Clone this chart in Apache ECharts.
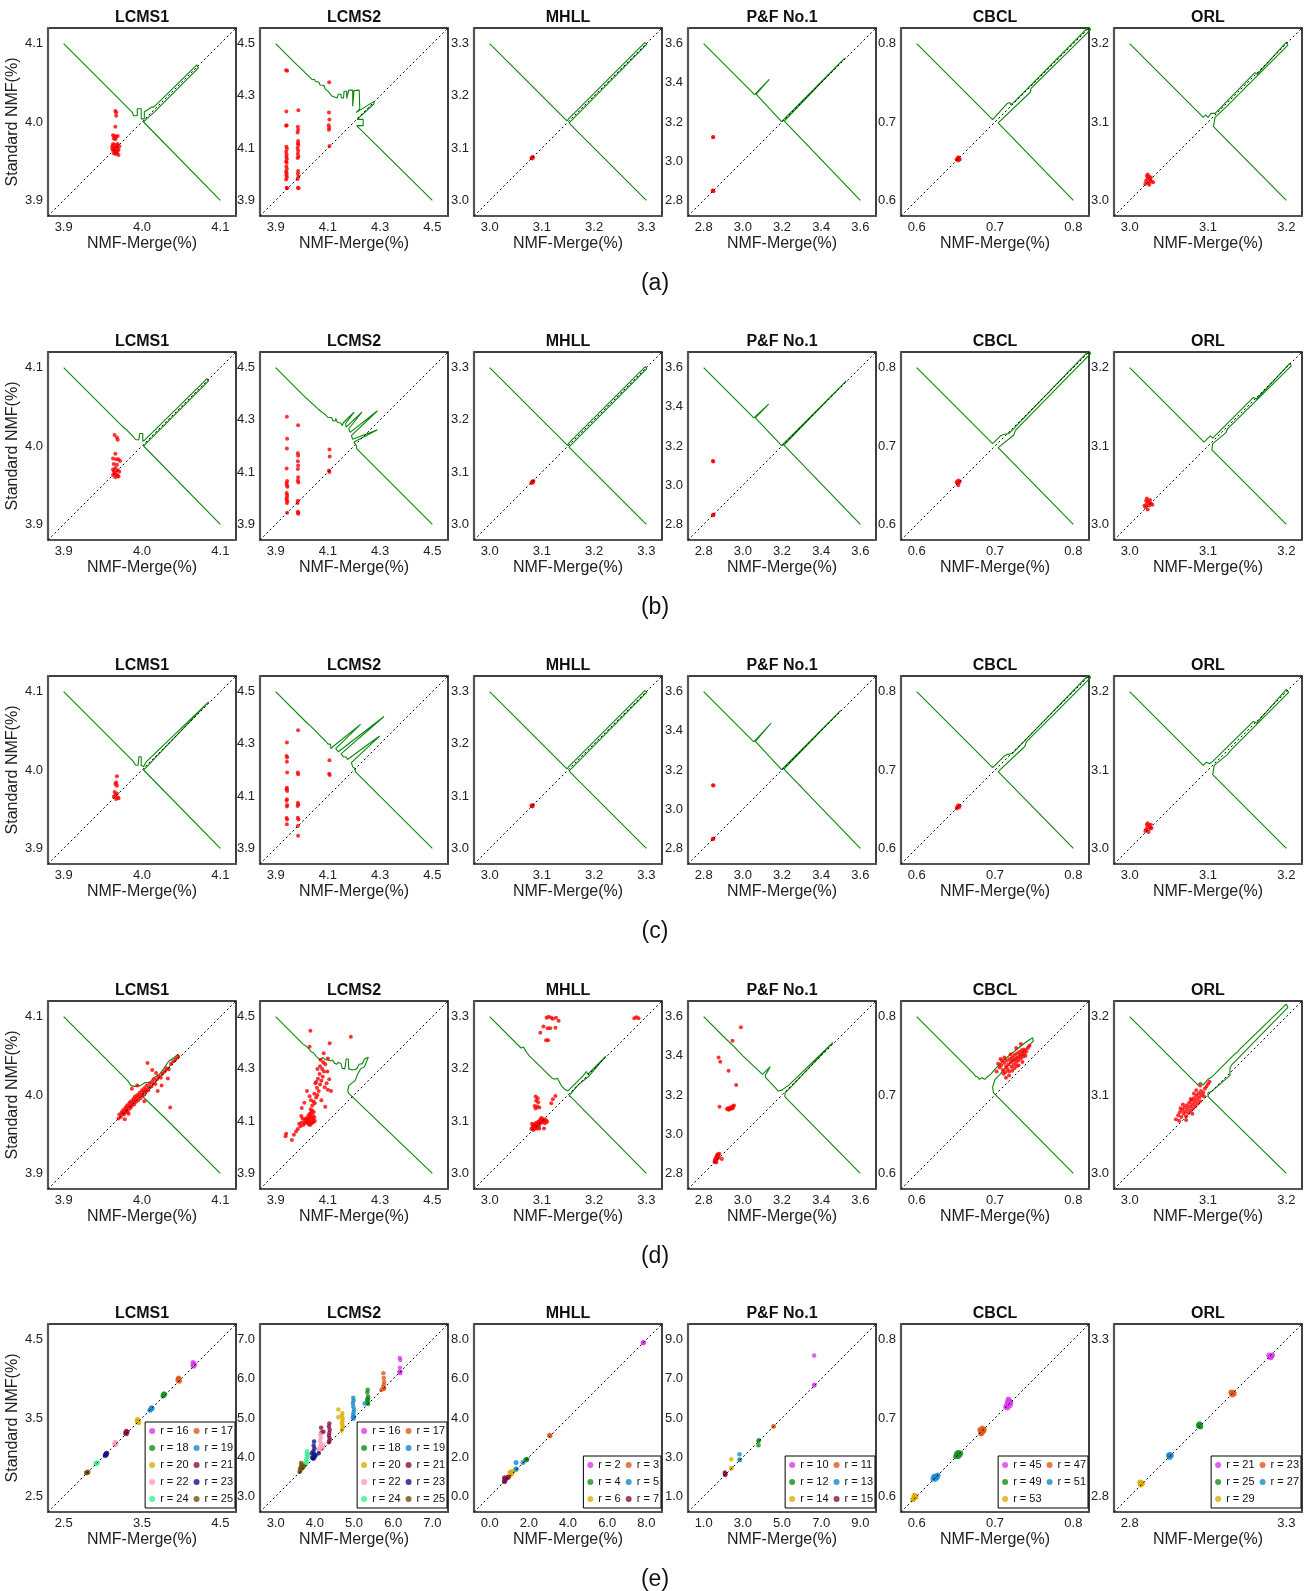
<!DOCTYPE html>
<html>
<head>
<meta charset="utf-8">
<script src="https://cdn.jsdelivr.net/npm/echarts@6/dist/echarts.min.js"></script>
<style>
html,body{margin:0;padding:0;background:#fff;}
#app{width:1307px;height:1591px;}
</style>
</head>
<body>
<div id="app"></div>
<script>
/* panel names, row labels, tick values */
const datasets = ['LCMS1', 'LCMS2', 'MHLL', 'P&F No.1', 'CBCL', 'ORL'];
const rowLabels = ['(a)', '(b)', '(c)', '(d)', '(e)'];
const ticksAD = [[3.9, 4.0, 4.1], [3.9, 4.1, 4.3, 4.5], [3.0, 3.1, 3.2, 3.3], [2.8, 3.0, 3.2, 3.4, 3.6], [0.6, 0.7, 0.8], [3.0, 3.1, 3.2]];
const ticksE = [[2.5, 3.5, 4.5], [3.0, 4.0, 5.0, 6.0, 7.0], [0.0, 2.0, 4.0, 6.0, 8.0], [1.0, 3.0, 5.0, 7.0, 9.0], [0.6, 0.7, 0.8], [2.8, 3.3]];
const palette = ['#d93ae8', '#e2581a', '#13901a', '#1689c8', '#dcae00', '#8c0d46', '#ff9db2', '#12128c', '#3af08c', '#6e5208'];

/* ---------- row (a) ---------- */
const redA_LCMS1 = [[3.966,4.014],[3.967,4.012],[3.967,4.008],[3.966,3.994],[3.963,3.983],[3.965,3.982],[3.967,3.981],[3.969,3.982],[3.964,3.979],[3.966,3.978],[3.963,3.972],[3.965,3.971],[3.968,3.970],[3.962,3.969],[3.964,3.967],[3.966,3.966],[3.968,3.967],[3.970,3.965],[3.963,3.964],[3.965,3.963],[3.967,3.962],[3.969,3.963],[3.964,3.960],[3.966,3.959],[3.968,3.960],[3.970,3.958],[3.962,3.966],[3.971,3.969],[3.969,3.972]];
const greenA_LCMS1 = [[3.9,4.1],[3.975,4.025],[3.977,4.027],[3.978,4.022],[3.988,4.012],[3.989,4.008],[3.994,4.008],[3.994,4.017],[3.999,4.017],[3.999,4.004],[4.003,4.004],[4.003,4.013],[4.008,4.016],[4.012,4.019],[4.015,4.019],[4.07,4.073],[4.072,4.069],[4.016,4.013],[4.006,4.004],[4.002,4.0],[4.1,3.9]];

const redA_LCMS2 = [[3.940,4.398],[3.944,4.396],[3.941,4.240],[3.942,4.188],[3.940,4.186],[3.941,4.105],[3.943,4.098],[3.940,4.086],[3.942,4.076],[3.941,4.066],[3.943,4.058],[3.940,4.050],[3.942,4.044],[3.941,4.030],[3.943,4.020],[3.940,4.010],[3.942,4.004],[3.941,3.996],[3.943,3.988],[3.940,3.980],[3.942,3.948],[3.944,3.946],
  [3.987,4.245],[3.985,4.182],[3.986,4.170],[3.984,4.160],[3.986,4.127],[3.985,4.118],[3.987,4.112],[3.984,4.100],[3.986,4.090],[3.985,4.078],[3.987,4.068],[3.984,4.062],[3.986,4.012],[3.985,4.002],[3.987,3.990],[3.984,3.982],[3.985,3.948],[3.988,3.946],
  [4.105,4.352],[4.104,4.236],[4.106,4.210],[4.103,4.188],[4.105,4.178],[4.104,4.170],[4.106,4.108]];
const greenA_LCMS2 = [[3.9,4.5],[3.97,4.43],[3.972,4.436],[3.976,4.426],[4.04,4.362],[4.048,4.364],[4.052,4.356],[4.066,4.352],[4.07,4.342],[4.085,4.34],[4.09,4.326],[4.1,4.318],[4.115,4.3],[4.135,4.292],[4.14,4.306],[4.15,4.306],[4.152,4.292],[4.16,4.292],[4.162,4.318],[4.172,4.318],[4.172,4.29],[4.178,4.29],[4.18,4.322],[4.195,4.322],[4.195,4.26],[4.2,4.26],[4.2,4.32],[4.22,4.322],[4.222,4.25],[4.208,4.236],[4.275,4.278],[4.277,4.27],[4.212,4.21],[4.235,4.21],[4.235,4.186],[4.21,4.186],[4.208,4.192],[4.5,3.9]];

const redA_MHLL = [[3.080,3.081],[3.082,3.083],[3.081,3.080],[3.083,3.082],[3.082,3.082]];
const greenA_MHLL = [[3.0,3.3],[3.148,3.152],[3.151,3.156],[3.297,3.302],[3.301,3.299],[3.156,3.152],[3.152,3.148],[3.3,3.0]];

const redA_PF = [[2.848,3.122],[2.849,3.124],[2.848,2.849],[2.850,2.847],[2.846,2.850]];
const greenA_PF = [[2.8,3.6],[3.06,3.34],[3.062,3.346],[3.135,3.418],[3.141,3.414],[3.068,3.342],[3.068,3.332],[3.198,3.202],[3.205,3.212],[3.52,3.526],[3.526,3.52],[3.212,3.205],[3.202,3.198],[3.6,2.8]];

const redA_CBCL = [[0.652,0.653],[0.654,0.654],[0.653,0.651],[0.651,0.652],[0.655,0.652],[0.653,0.655],[0.654,0.652]];
const greenA_CBCL = [[0.6,0.8],[0.697,0.703],[0.716,0.724],[0.719,0.725],[0.72,0.722],[0.724,0.725],[0.82,0.822],[0.822,0.818],[0.746,0.743],[0.745,0.738],[0.704,0.699],[0.703,0.697],[0.8,0.6]];

const redA_ORL = [[3.021,3.025],[3.023,3.028],[3.025,3.030],[3.022,3.031],[3.026,3.026],[3.024,3.022],[3.020,3.021],[3.028,3.024],[3.030,3.023],[3.027,3.029],[3.023,3.033],[3.025,3.020]];
const greenA_ORL = [[3.0,3.2],[3.094,3.106],[3.097,3.109],[3.1,3.106],[3.104,3.111],[3.109,3.111],[3.16,3.163],[3.163,3.161],[3.2,3.202],[3.202,3.198],[3.128,3.124],[3.124,3.12],[3.109,3.106],[3.107,3.094],[3.2,3.0]];

/* ---------- row (b) ---------- */
const redB_LCMS1 = [[3.965,4.014],[3.968,4.011],[3.969,4.008],[3.966,3.990],[3.963,3.984],[3.967,3.983],[3.970,3.983],[3.972,3.981],[3.964,3.977],[3.968,3.976],[3.966,3.972],[3.963,3.970],[3.969,3.969],[3.971,3.967],[3.965,3.966],[3.967,3.964],[3.963,3.963],[3.969,3.962],[3.966,3.960],[3.970,3.961],[3.964,3.968]];
const greenB_LCMS1 = [[3.9,4.1],[3.976,4.024],[3.978,4.026],[3.98,4.021],[3.988,4.013],[3.99,4.014],[3.992,4.008],[3.996,4.008],[3.997,4.016],[4.001,4.016],[4.001,4.006],[4.004,4.008],[4.006,4.01],[4.083,4.086],[4.085,4.083],[4.006,4.004],[4.002,4.0],[4.1,3.9]];

const redB_LCMS2 = [[3.943,4.312],[3.944,4.228],[3.943,4.190],[3.942,4.114],[3.944,4.066],[3.942,4.058],[3.943,4.050],[3.945,4.044],[3.942,4.020],[3.944,4.012],[3.943,4.004],[3.942,3.996],[3.944,3.988],[3.943,3.982],[3.944,3.944],
  [3.986,4.279],[3.985,4.172],[3.986,4.163],[3.985,4.142],[3.986,4.125],[3.985,4.112],[3.986,4.080],[3.985,4.068],[3.987,4.060],[3.985,3.990],[3.984,3.982],[3.985,3.948],[3.987,3.944],[3.986,3.941],
  [4.106,4.187],[4.107,4.160],[4.104,4.106],[4.106,4.100]];
const greenB_LCMS2 = [[3.9,4.5],[4.005,4.395],[4.008,4.398],[4.012,4.392],[4.06,4.344],[4.065,4.346],[4.07,4.335],[4.09,4.32],[4.095,4.324],[4.1,4.31],[4.115,4.308],[4.12,4.296],[4.128,4.296],[4.13,4.305],[4.135,4.305],[4.137,4.29],[4.15,4.288],[4.155,4.278],[4.16,4.278],
  [4.16,4.29],[4.2,4.33],[4.205,4.325],[4.168,4.286],[4.17,4.272],[4.175,4.272],[4.23,4.33],[4.235,4.325],[4.18,4.266],[4.185,4.252],[4.29,4.335],[4.295,4.33],[4.19,4.24],[4.195,4.226],[4.29,4.262],[4.295,4.257],[4.2,4.215],[4.205,4.21],[4.21,4.2],[4.21,4.19],[4.5,3.9]];

const redB_MHLL = [[3.081,3.081],[3.083,3.080],[3.082,3.082],[3.080,3.079],[3.084,3.083]];
const greenB_MHLL = [[3.0,3.3],[3.149,3.151],[3.152,3.156],[3.298,3.302],[3.301,3.298],[3.156,3.152],[3.152,3.148],[3.3,3.0]];

const redB_PF = [[2.849,3.121],[2.847,3.123],[2.849,2.848],[2.851,2.850],[2.847,2.846]];
const greenB_PF = [[2.8,3.6],[3.056,3.344],[3.058,3.35],[3.132,3.414],[3.137,3.41],[3.064,3.344],[3.064,3.336],[3.198,3.202],[3.204,3.21],[3.528,3.532],[3.532,3.528],[3.21,3.204],[3.202,3.198],[3.6,2.8]];

const redB_CBCL = [[0.652,0.652],[0.654,0.653],[0.653,0.650],[0.651,0.654],[0.655,0.655],[0.653,0.656]];
const greenB_CBCL = [[0.6,0.8],[0.697,0.703],[0.707,0.713],[0.712,0.715],[0.714,0.713],[0.718,0.716],[0.82,0.822],[0.822,0.818],[0.726,0.72],[0.724,0.714],[0.704,0.698],[0.703,0.697],[0.8,0.6]];

const redB_ORL = [[3.020,3.022],[3.022,3.026],[3.024,3.029],[3.021,3.030],[3.025,3.024],[3.027,3.027],[3.023,3.019],[3.026,3.031],[3.029,3.025],[3.022,3.033],[3.019,3.024]];
const greenB_ORL = [[3.0,3.2],[3.095,3.105],[3.1,3.11],[3.103,3.113],[3.106,3.11],[3.158,3.162],[3.162,3.16],[3.205,3.206],[3.206,3.202],[3.125,3.122],[3.123,3.117],[3.106,3.103],[3.105,3.095],[3.2,3.0]];

/* ---------- row (c) ---------- */
const redC_LCMS1 = [[3.968,3.992],[3.966,3.982],[3.968,3.980],[3.967,3.984],[3.965,3.972],[3.968,3.970],[3.966,3.968],[3.964,3.966],[3.969,3.965],[3.967,3.963],[3.970,3.964]];
const greenC_LCMS1 = [[3.9,4.1],[3.988,4.012],[3.99,4.01],[3.992,4.006],[3.995,4.006],[3.996,4.017],[3.999,4.017],[3.999,4.006],[4.002,4.004],[4.005,4.01],[4.085,4.087],[4.087,4.085],[4.006,4.004],[4.002,4.0],[4.1,3.9]];

const redC_LCMS2 = [[3.943,4.305],[3.942,4.254],[3.944,4.248],[3.943,4.232],[3.944,4.190],[3.943,4.132],[3.942,4.126],[3.944,4.120],[3.943,4.088],[3.942,4.082],[3.944,4.066],[3.943,4.060],[3.942,4.016],[3.944,4.010],[3.943,3.992],
  [3.986,4.352],[3.985,4.190],[3.986,4.184],[3.985,4.075],[3.987,4.068],[3.984,4.062],[3.985,4.017],[3.987,4.010],[3.985,3.986],[3.986,3.948],
  [4.106,4.237],[4.105,4.186],[4.107,4.181]];
const greenC_LCMS2 = [[3.9,4.5],[4.02,4.38],[4.025,4.385],[4.03,4.372],[4.06,4.342],[4.065,4.344],[4.07,4.332],[4.09,4.312],[4.095,4.316],[4.1,4.3],[4.11,4.298],[4.112,4.282],[4.118,4.282],
  [4.12,4.29],[4.225,4.375],[4.23,4.37],[4.13,4.282],[4.14,4.27],[4.315,4.405],[4.32,4.4],[4.15,4.262],[4.16,4.25],[4.17,4.25],[4.175,4.24],[4.18,4.24],[4.298,4.33],[4.302,4.325],[4.19,4.228],[4.195,4.212],[4.205,4.205],[4.205,4.194],[4.5,3.9]];

const redC_MHLL = [[3.081,3.081],[3.083,3.083],[3.082,3.080],[3.080,3.082]];
const greenC_MHLL = [[3.0,3.3],[3.148,3.152],[3.151,3.156],[3.297,3.302],[3.301,3.299],[3.156,3.152],[3.152,3.148],[3.3,3.0]];

const redC_PF = [[2.848,3.122],[2.850,3.121],[2.848,2.848],[2.850,2.850],[2.846,2.847]];
const greenC_PF = [[2.8,3.6],[3.056,3.344],[3.058,3.352],[3.145,3.44],[3.15,3.435],[3.064,3.346],[3.064,3.336],[3.198,3.202],[3.204,3.21],[3.5,3.505],[3.505,3.5],[3.21,3.204],[3.202,3.198],[3.6,2.8]];

const redC_CBCL = [[0.652,0.653],[0.654,0.652],[0.653,0.655],[0.651,0.651],[0.655,0.654]];
const greenC_CBCL = [[0.6,0.8],[0.697,0.703],[0.712,0.718],[0.716,0.72],[0.718,0.718],[0.722,0.721],[0.82,0.822],[0.822,0.818],[0.74,0.736],[0.738,0.73],[0.704,0.698],[0.703,0.697],[0.8,0.6]];

const redC_ORL = [[3.021,3.024],[3.023,3.027],[3.025,3.029],[3.022,3.030],[3.026,3.025],[3.024,3.021],[3.020,3.022],[3.028,3.026],[3.023,3.032],[3.027,3.030]];
const greenC_ORL = [[3.0,3.2],[3.094,3.106],[3.098,3.11],[3.102,3.108],[3.106,3.111],[3.158,3.162],[3.162,3.16],[3.2,3.203],[3.203,3.199],[3.128,3.124],[3.125,3.12],[3.108,3.106],[3.106,3.094],[3.2,3.0]];

/* ---------- row (d) ---------- */
const redD_LCMS1 = [[3.970,3.970],[3.971,3.975],[3.973,3.972],[3.974,3.978],[3.975,3.976],[3.976,3.981],[3.977,3.975],[3.978,3.979],[3.979,3.984],[3.980,3.978],[3.980,3.982],[3.981,3.987],[3.982,3.980],[3.983,3.985],[3.984,3.990],[3.985,3.983],[3.985,3.987],[3.986,3.992],[3.987,3.986],[3.988,3.990],[3.989,3.995],[3.990,3.988],[3.990,3.993],[3.991,3.998],[3.992,3.991],[3.993,3.996],[3.994,4.000],[3.995,3.993],[3.996,3.998],[3.997,4.003],[3.998,3.996],[3.999,4.001],[4.000,4.006],[4.001,3.999],[4.002,4.004],[4.003,4.009],[4.004,4.003],[4.005,4.007],[4.006,4.012],[4.008,4.006],[4.009,4.010],[4.010,4.015],[4.012,4.011],[4.014,4.016],[4.015,4.020],[4.017,4.014],[4.019,4.020],[4.021,4.024],[4.024,4.022],[4.026,4.027],[4.029,4.030],[4.031,4.034],[4.034,4.033],[4.037,4.040],[4.040,4.043],[4.043,4.046],[4.046,4.049],
  [4.007,4.041],[4.036,3.984],[4.033,4.021],[4.013,4.032],[4.018,4.028],[3.994,4.012],[3.987,4.008],[4.025,4.012],[4.003,3.992],[4.020,4.005],[3.978,3.969],[3.983,3.976]];
const greenD_LCMS1 = [[3.9,4.1],[3.982,4.018],[3.984,4.019],[3.986,4.012],[3.99,4.011],[3.998,4.012],[4.004,4.016],[4.01,4.016],[4.015,4.022],[4.022,4.026],[4.028,4.034],[4.034,4.043],[4.04,4.047],[4.046,4.052],[4.047,4.049],[4.043,4.045],[4.03,4.031],[4.02,4.02],[4.012,4.01],[4.006,4.003],[4.004,3.999],[4.0,3.999],[4.03,3.97],[4.032,3.969],[4.1,3.9]];

const redD_LCMS2 = [[4.020,4.100],[4.025,4.095],[4.030,4.105],[4.035,4.098],[4.040,4.110],[4.028,4.112],[4.033,4.118],[4.038,4.092],[4.045,4.104],[4.022,4.108],[4.018,4.095],[4.042,4.122],[4.030,4.128],[4.048,4.115],[4.026,4.088],[4.036,4.132],[4.015,4.110],[4.050,4.100],[4.040,4.140],[4.034,4.145],[4.046,4.135],[4.012,4.102],[4.024,4.120],[4.044,4.096],[4.032,4.085],[4.010,4.092],[4.006,4.085],[4.000,4.095],[3.995,4.080],[4.003,4.110],
  [3.985,4.070],[3.978,4.060],[3.970,4.048],[3.962,4.028],[3.940,4.052],[3.938,4.042],[3.990,4.090],[3.998,4.120],
  [4.040,4.160],[4.045,4.175],[4.050,4.168],[4.035,4.180],[4.055,4.190],[4.060,4.200],[4.048,4.205],[4.030,4.195],[4.065,4.215],[4.058,4.228],[4.070,4.240],[4.052,4.245],[4.075,4.255],[4.062,4.262],[4.080,4.270],[4.068,4.280],[4.088,4.230],[4.095,4.245],[4.100,4.220],[4.112,4.215],[4.085,4.290],[4.078,4.300],[4.070,4.310],[4.090,4.318],[4.082,4.325],[4.072,4.335],[4.060,4.300],[4.055,4.250],[4.090,4.155],[4.075,4.180],[4.105,4.260],[4.098,4.290],
  [4.033,4.446],[4.188,4.423],[4.107,4.398],[4.084,4.360],[4.030,4.385],[4.100,4.340],[4.020,4.215],[4.010,4.170],[4.000,4.150]];
const greenD_LCMS2 = [[3.9,4.5],[4.005,4.395],[4.008,4.398],[4.015,4.388],[4.03,4.374],[4.035,4.366],[4.045,4.362],[4.055,4.348],[4.065,4.34],[4.07,4.332],[4.08,4.344],[4.09,4.336],[4.1,4.334],[4.11,4.33],[4.118,4.334],[4.125,4.322],[4.135,4.318],[4.14,4.326],[4.15,4.32],[4.155,4.302],[4.165,4.3],[4.17,4.338],[4.178,4.338],[4.18,4.3],[4.195,4.296],[4.21,4.3],[4.22,4.318],[4.232,4.32],[4.24,4.338],[4.255,4.345],[4.258,4.338],[4.24,4.308],[4.225,4.3],[4.212,4.276],[4.205,4.256],[4.18,4.236],[4.176,4.215],[4.18,4.206],[4.5,3.9]];

const redD_MHLL = [[3.109,3.298],[3.113,3.300],[3.118,3.298],[3.121,3.296],[3.127,3.298],[3.132,3.292],[3.103,3.281],[3.097,3.269],[3.111,3.278],[3.116,3.278],[3.126,3.279],[3.108,3.255],[3.112,3.255],[3.277,3.297],[3.281,3.299],[3.285,3.297],
  [3.088,3.147],[3.092,3.144],[3.089,3.139],[3.093,3.136],[3.086,3.129],[3.091,3.128],[3.095,3.126],[3.088,3.124],[3.118,3.134],[3.121,3.142],[3.126,3.148],
  [3.080,3.085],[3.082,3.088],[3.084,3.083],[3.085,3.090],[3.087,3.086],[3.083,3.092],[3.086,3.094],[3.088,3.089],[3.090,3.092],[3.089,3.097],[3.091,3.086],[3.092,3.095],[3.094,3.090],[3.093,3.099],[3.095,3.094],[3.096,3.100],[3.098,3.097],[3.097,3.103],[3.100,3.101],[3.099,3.106],[3.102,3.098],[3.103,3.104],[3.105,3.100],[3.106,3.096],[3.108,3.102],[3.104,3.086],[3.110,3.099],[3.081,3.095],[3.095,3.086]];
const greenD_MHLL = [[3.0,3.3],[3.06,3.24],[3.065,3.242],[3.068,3.236],[3.072,3.23],[3.075,3.226],[3.12,3.182],[3.125,3.18],[3.13,3.182],[3.133,3.176],[3.137,3.168],[3.14,3.167],[3.145,3.16],[3.15,3.158],[3.18,3.188],[3.185,3.195],[3.188,3.19],[3.192,3.194],[3.222,3.224],[3.224,3.221],[3.19,3.186],[3.17,3.17],[3.155,3.152],[3.152,3.148],[3.156,3.146],[3.3,3.0]];

const redD_PF = [[2.990,3.546],[2.947,3.477],[2.876,3.392],[2.885,3.370],[2.927,3.324],[2.966,3.251],[2.881,3.140],
  [2.919,3.128],[2.924,3.132],[2.930,3.128],[2.935,3.134],[2.940,3.130],[2.945,3.136],[2.950,3.142],[2.955,3.146],[2.928,3.125],[2.938,3.138],[2.948,3.132],
  [2.855,2.858],[2.860,2.862],[2.858,2.870],[2.864,2.866],[2.866,2.874],[2.862,2.880],[2.870,2.885],[2.868,2.892],[2.872,2.898],[2.875,2.895],[2.880,2.900],[2.857,2.864],[2.877,2.880],[2.893,2.873],[2.865,2.855]];
const greenD_PF = [[2.8,3.6],[2.9,3.5],[2.905,3.497],[2.96,3.442],[3.0,3.4],[3.1,3.305],[3.12,3.325],[3.14,3.345],[3.145,3.34],[3.125,3.318],[3.115,3.302],[3.116,3.29],[3.125,3.28],[3.17,3.232],[3.18,3.22],[3.19,3.22],[3.2,3.225],[3.21,3.228],[3.22,3.24],[3.235,3.25],[3.24,3.258],[3.46,3.468],[3.465,3.462],[3.25,3.245],[3.215,3.21],[3.212,3.2],[3.215,3.19],[3.6,2.8]];

const redD_CBCL = [[0.706,0.735],[0.708,0.738],[0.710,0.732],[0.712,0.741],[0.714,0.736],[0.715,0.744],[0.717,0.739],[0.718,0.730],[0.719,0.746],[0.720,0.742],[0.721,0.736],[0.722,0.748],[0.723,0.744],[0.724,0.739],[0.725,0.751],[0.726,0.746],[0.727,0.742],[0.728,0.753],[0.729,0.748],[0.730,0.744],[0.731,0.755],[0.732,0.750],[0.733,0.747],[0.734,0.757],[0.735,0.752],[0.736,0.749],[0.737,0.758],[0.738,0.754],[0.740,0.756],[0.742,0.760],[0.713,0.729],[0.716,0.733],[0.709,0.744],[0.711,0.727],[0.704,0.740],[0.707,0.746],[0.725,0.734],[0.730,0.738],[0.735,0.742],[0.720,0.752],[0.727,0.760],[0.733,0.765],[0.718,0.725],[0.714,0.722],[0.702,0.730],[0.744,0.763],[0.739,0.750],[0.712,0.748],[0.722,0.731],[0.728,0.737]];
const greenD_CBCL = [[0.6,0.8],[0.672,0.728],[0.675,0.724],[0.678,0.723],[0.68,0.72],[0.683,0.722],[0.687,0.72],[0.69,0.723],[0.695,0.727],[0.7,0.733],[0.705,0.738],[0.712,0.745],[0.72,0.752],[0.73,0.76],[0.74,0.768],[0.748,0.773],[0.749,0.769],[0.74,0.759],[0.73,0.75],[0.72,0.741],[0.712,0.733],[0.706,0.726],[0.7,0.72],[0.697,0.71],[0.698,0.703],[0.8,0.6]];

const redD_ORL = [[3.059,3.069],[3.062,3.074],[3.064,3.078],[3.066,3.072],[3.067,3.081],[3.069,3.076],[3.070,3.084],[3.071,3.079],[3.072,3.073],[3.073,3.087],[3.074,3.082],[3.075,3.077],[3.076,3.090],[3.077,3.085],[3.078,3.080],[3.079,3.093],[3.080,3.088],[3.081,3.083],[3.082,3.096],[3.083,3.091],[3.084,3.086],[3.085,3.099],[3.086,3.094],[3.087,3.089],[3.088,3.102],[3.089,3.097],[3.090,3.092],[3.091,3.105],[3.092,3.100],[3.094,3.103],[3.096,3.108],[3.098,3.111],[3.100,3.114],[3.102,3.117],[3.090,3.112],[3.085,3.106],[3.068,3.088],[3.065,3.083],[3.078,3.095],[3.082,3.102],[3.095,3.098],[3.080,3.076],[3.072,3.068],[3.063,3.067]];
const greenD_ORL = [[3.0,3.2],[3.087,3.113],[3.09,3.116],[3.094,3.113],[3.1,3.12],[3.105,3.123],[3.135,3.153],[3.138,3.155],[3.14,3.158],[3.2,3.216],[3.202,3.212],[3.13,3.138],[3.128,3.134],[3.128,3.125],[3.104,3.104],[3.1,3.103],[3.1,3.098],[3.2,3.0]];

/* ---------- row (e): ranks and points per rank ---------- */
const rankE_LCMS = ['r = 16', 'r = 17', 'r = 18', 'r = 19', 'r = 20', 'r = 21', 'r = 22', 'r = 23', 'r = 24', 'r = 25'];
const ptsE_LCMS1 = [
  [[4.15,4.17],[4.16,4.20],[4.15,4.21],[4.17,4.18],[4.16,4.16]],
  [[3.96,3.98],[3.97,4.01],[3.96,4.00],[3.98,3.97],[3.97,3.99]],
  [[3.77,3.79],[3.78,3.81],[3.79,3.80],[3.77,3.78]],
  [[3.61,3.61],[3.62,3.63],[3.63,3.62],[3.60,3.60]],
  [[3.44,3.45],[3.45,3.47],[3.44,3.48],[3.46,3.44]],
  [[3.30,3.30],[3.31,3.32],[3.30,3.33],[3.29,3.31]],
  [[3.16,3.16],[3.17,3.18],[3.16,3.19],[3.15,3.17]],
  [[3.04,3.03],[3.05,3.05],[3.04,3.04],[3.03,3.02]],
  [[2.92,2.92],[2.93,2.93],[2.91,2.92]],
  [[2.80,2.80],[2.81,2.81],[2.79,2.80]]
];
const ptsE_LCMS2 = [
  [[6.17,6.53],[6.18,6.48],[6.17,6.28],[6.16,6.17],[6.18,6.15],[6.17,6.16],[6.19,6.18]],
  [[5.75,6.14],[5.76,6.02],[5.77,5.92],[5.76,5.85],[5.75,5.80],[5.77,5.76],[5.76,5.74],[5.70,5.72]],
  [[5.35,5.72],[5.34,5.65],[5.36,5.55],[5.34,5.48],[5.35,5.42],[5.33,5.38],[5.36,5.36],[5.34,5.44],[5.36,5.50]],
  [[4.98,5.52],[4.99,5.45],[4.97,5.38],[4.98,5.30],[5.00,5.22],[4.99,5.15],[4.98,5.08],[4.97,5.02],[4.99,4.98],[5.00,5.03],[5.27,5.37]],
  [[4.70,5.12],[4.69,5.05],[4.71,4.98],[4.70,4.92],[4.69,4.86],[4.71,4.80],[4.70,4.74],[4.69,4.68],[4.60,5.22],[4.60,5.02]],
  [[4.37,4.86],[4.36,4.78],[4.38,4.70],[4.37,4.62],[4.36,4.55],[4.38,4.48],[4.37,4.42],[4.36,4.38],[4.16,4.75],[4.17,4.63],[4.22,4.65]],
  [[4.14,4.58],[4.15,4.50],[4.13,4.42],[4.16,4.35],[4.14,4.28],[4.12,4.22],[4.17,4.20],[4.20,4.24],[4.22,4.30],[4.10,4.18]],
  [[3.98,4.40],[3.97,4.30],[3.99,4.22],[3.96,4.15],[3.98,4.08],[3.95,4.02],[3.97,3.96],[3.93,3.98],[3.92,4.10],[3.99,4.00],[4.02,4.05],[4.10,4.10]],
  [[3.80,4.15],[3.79,4.08],[3.81,4.00],[3.78,3.94],[3.80,3.88],[3.77,3.82],[3.75,3.85],[3.82,4.05]],
  [[3.61,3.62],[3.63,3.65],[3.62,3.70],[3.64,3.75],[3.66,3.80],[3.65,3.85],[3.68,3.72],[3.70,3.78],[3.72,3.76]]
];
const rankE_MHLL = ['r = 2', 'r = 3', 'r = 4', 'r = 5', 'r = 6', 'r = 7'];
const ptsE_MHLL = [
  [[7.83,7.83],[7.86,7.85]],
  [[3.06,3.12],[3.08,3.10]],
  [[1.90,1.90],[1.84,1.85],[1.87,1.88]],
  [[1.35,1.73],[1.70,1.73],[1.33,1.38],[1.36,1.40]],
  [[1.08,1.26],[1.03,1.20],[1.20,1.25],[1.05,1.08],[1.12,1.15]],
  [[0.76,0.95],[0.78,0.88],[0.77,0.80],[0.75,0.75],[0.90,0.96],[0.95,0.98],[0.80,0.85]]
];
const rankE_PF = ['r = 10', 'r = 11', 'r = 12', 'r = 13', 'r = 14', 'r = 15'];
const ptsE_PF = [
  [[6.64,8.19],[6.64,6.66],[6.66,6.70]],
  [[4.56,4.56],[4.58,4.58]],
  [[3.80,3.83],[3.80,3.61],[3.82,3.86]],
  [[2.83,3.15],[2.83,2.85],[2.85,2.88]],
  [[2.41,2.90],[2.41,2.42],[2.43,2.45]],
  [[2.08,2.22],[2.10,2.17],[2.09,2.12],[2.11,2.10]]
];
const rankE_CBCL = ['r = 45', 'r = 47', 'r = 49', 'r = 51', 'r = 53'];
const ptsE_CBCL = [
  [[0.715,0.716],[0.717,0.718],[0.719,0.716],[0.716,0.720],[0.718,0.722],[0.714,0.714],[0.720,0.719],[0.717,0.724],[0.716,0.713],[0.719,0.721]],
  [[0.682,0.683],[0.684,0.685],[0.683,0.681],[0.685,0.683],[0.681,0.685],[0.684,0.687],[0.686,0.685],[0.682,0.680]],
  [[0.652,0.652],[0.654,0.654],[0.653,0.651],[0.655,0.653],[0.651,0.654],[0.653,0.656],[0.656,0.655],[0.650,0.651]],
  [[0.623,0.624],[0.625,0.626],[0.624,0.622],[0.626,0.624],[0.622,0.625],[0.627,0.627],[0.621,0.622]],
  [[0.597,0.598],[0.598,0.600],[0.596,0.597],[0.599,0.599],[0.597,0.601],[0.595,0.596]]
];
const rankE_ORL = ['r = 21', 'r = 23', 'r = 25', 'r = 27', 'r = 29'];
const ptsE_ORL = [
  [[3.248,3.245],[3.252,3.248],[3.245,3.250],[3.255,3.250],[3.250,3.243]],
  [[3.126,3.128],[3.130,3.131],[3.128,3.124],[3.133,3.127],[3.124,3.132]],
  [[3.022,3.024],[3.025,3.028],[3.020,3.027],[3.026,3.022],[3.023,3.031]],
  [[2.926,2.928],[2.930,2.932],[2.928,2.925],[2.925,2.932],[2.932,2.930]],
  [[2.835,2.840],[2.838,2.843],[2.836,2.836],[2.840,2.840],[2.833,2.845]]
];

/* grouping of the named arrays */
const redRows = [
  [redA_LCMS1, redA_LCMS2, redA_MHLL, redA_PF, redA_CBCL, redA_ORL],
  [redB_LCMS1, redB_LCMS2, redB_MHLL, redB_PF, redB_CBCL, redB_ORL],
  [redC_LCMS1, redC_LCMS2, redC_MHLL, redC_PF, redC_CBCL, redC_ORL],
  [redD_LCMS1, redD_LCMS2, redD_MHLL, redD_PF, redD_CBCL, redD_ORL]
];
const greenRows = [
  [greenA_LCMS1, greenA_LCMS2, greenA_MHLL, greenA_PF, greenA_CBCL, greenA_ORL],
  [greenB_LCMS1, greenB_LCMS2, greenB_MHLL, greenB_PF, greenB_CBCL, greenB_ORL],
  [greenC_LCMS1, greenC_LCMS2, greenC_MHLL, greenC_PF, greenC_CBCL, greenC_ORL],
  [greenD_LCMS1, greenD_LCMS2, greenD_MHLL, greenD_PF, greenD_CBCL, greenD_ORL]
];
const rowE = [
  {ranks: rankE_LCMS, pts: ptsE_LCMS1, legendW: 86, size: 5},
  {ranks: rankE_LCMS, pts: ptsE_LCMS2, legendW: 86, size: 4.5},
  {ranks: rankE_MHLL, pts: ptsE_MHLL, legendW: 72, size: 5},
  {ranks: rankE_PF, pts: ptsE_PF, legendW: 86, size: 4.5},
  {ranks: rankE_CBCL, pts: ptsE_CBCL, legendW: 86, size: 5.5},
  {ranks: rankE_ORL, pts: ptsE_ORL, legendW: 86, size: 5.5}
];

/* layout */
const W = 1307, H = 1591;
const gridLeft = [48, 260, 474, 688, 901, 1114];
const gridTop = [28, 352, 676, 1001, 1324];
const SIZE = 188;
const FONT = '"Liberation Sans", Arial, Helvetica, sans-serif';

const grids = [], xAxes = [], yAxes = [], series = [], graphics = [], legends = [];

for (let r = 0; r < 5; r++) {
  for (let c = 0; c < 6; c++) {
    const idx = r * 6 + c;
    const ticks = r < 4 ? ticksAD[c] : ticksE[c];
    const span = ticks[ticks.length - 1] - ticks[0];
    const lo = ticks[0] - 0.1 * span, hi = ticks[ticks.length - 1] + 0.1 * span;

    grids.push({left: gridLeft[c], top: gridTop[r], width: SIZE, height: SIZE, show: true,
      borderColor: '#000', borderWidth: 1.5, backgroundColor: '#fff'});

    const axisCommon = {
      gridIndex: idx, type: 'value', min: lo, max: hi,
      axisLine: {show: true, onZero: false, lineStyle: {color: '#555', width: 2.2}},
      axisTick: {show: false}, splitLine: {show: false},
      nameLocation: 'middle',
      nameTextStyle: {fontSize: 16, color: '#222', fontFamily: FONT}
    };
    xAxes.push(Object.assign({}, axisCommon, {
      name: 'NMF-Merge(%)', nameGap: 20,
      axisLabel: {customValues: ticks, formatter: v => v.toFixed(1), margin: 5, fontSize: 13, color: '#222', fontFamily: FONT}
    }));
    yAxes.push(Object.assign({}, axisCommon, {
      name: c === 0 ? 'Standard NMF(%)' : '', nameGap: 21,
      axisLabel: {customValues: ticks, formatter: v => v.toFixed(1), margin: 5, fontSize: 13, color: '#222', fontFamily: FONT}
    }));

    if (r < 4) {
      series.push({type: 'line', xAxisIndex: idx, yAxisIndex: idx, data: greenRows[r][c], symbol: 'none',
        lineStyle: {color: '#0b870b', width: 1.1}, z: 2, silent: true});
      series.push({type: 'scatter', xAxisIndex: idx, yAxisIndex: idx, data: redRows[r][c], symbolSize: 4,
        itemStyle: {color: '#ff0000'}, z: 3, silent: true});
    } else {
      const e = rowE[c];
      e.ranks.forEach((name, k) => {
        series.push({type: 'scatter', name, xAxisIndex: idx, yAxisIndex: idx, data: e.pts[k], symbolSize: e.size,
          itemStyle: {color: palette[k]}, z: 3, silent: true});
      });
      legends.push({
        data: e.ranks.map((name, k) => ({name, itemStyle: {color: palette[k]}})),
        orient: 'horizontal', width: e.legendW,
        right: W - (gridLeft[c] + SIZE) + 1, bottom: H - (gridTop[r] + SIZE) + 4,
        icon: 'circle', itemWidth: 6, itemHeight: 6, itemGap: 5,
        padding: [3, 2, 3, 4], borderColor: '#000', borderWidth: 1, backgroundColor: '#fff',
        selectedMode: false, z: 10,
        textStyle: {fontSize: 11, color: '#111', fontFamily: FONT, lineHeight: 12}
      });
    }
    // dotted identity line across the whole box
    series.push({type: 'line', xAxisIndex: idx, yAxisIndex: idx, data: [[lo, lo], [hi, hi]], symbol: 'none',
      lineStyle: {color: '#000', width: 1, type: [2, 2.6]}, z: 4, silent: true});

    graphics.push({type: 'text', x: gridLeft[c] + SIZE / 2, y: gridTop[r] - 10,
      style: {text: datasets[c], font: 'bold 16px ' + FONT, fill: '#111', align: 'center', verticalAlign: 'middle'}});
  }
  graphics.push({type: 'text', x: 655, y: gridTop[r] + 256,
    style: {text: rowLabels[r], font: '23px ' + FONT, fill: '#111', align: 'center', verticalAlign: 'middle'}});
}

const chart = echarts.init(document.getElementById('app'), null, {renderer: 'canvas'});
chart.setOption({
  animation: false,
  backgroundColor: '#fff',
  grid: grids,
  xAxis: xAxes,
  yAxis: yAxes,
  legend: legends,
  series: series,
  graphic: graphics
});
</script>
</body>
</html>
